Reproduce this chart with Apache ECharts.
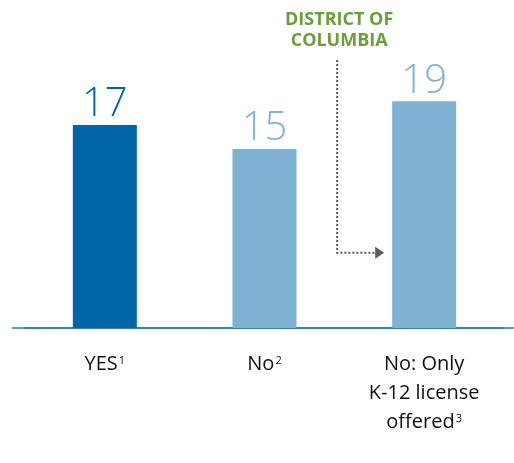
<!DOCTYPE html>
<html>
<head>
<meta charset="UTF-8">
<script src="https://cdn.jsdelivr.net/npm/echarts@6/dist/echarts.min.js"></script>
<style>
  body { margin: 0; background: #fff; }
  #chart { width: 514px; height: 463px; }
</style>
</head>
<body>
<div id="chart"></div>
<script>
// categories (rich-text keys give the footnote superscripts)
const categories = ['YES{sup|1}', 'No{sup|2}', 'No: Only\nK-12 license\noffered{sup|3}']
const values = [17, 15, 19]
const barColors = ['#0065a5', '#80b2d3', '#80b2d3']
const annotation = 'DISTRICT OF\nCOLUMBIA'

const chart = echarts.init(document.getElementById('chart'))

chart.setOption({
  animation: false,
  grid: { left: 25, right: 10, top: 29.5, bottom: 135 },
  xAxis: {
    type: 'category',
    data: categories,
    axisTick: { show: false },
    axisLine: { lineStyle: { color: '#2a7ab0', width: 1.5 } },
    axisLabel: {
      margin: 22,
      color: '#111',
      fontFamily: 'Open Sans',
      fontSize: 20,
      lineHeight: 29,
      interval: 0,
      rich: {
        sup: { fontSize: 11, verticalAlign: 'bottom', padding: [0, 0, 13, 1], color: '#111' }
      }
    }
  },
  yAxis: {
    type: 'value',
    min: 0,
    max: 25,
    show: false
  },
  series: [{
    type: 'bar',
    barWidth: 64,
    data: values.map((v, i) => ({ value: v, itemStyle: { color: barColors[i] }, label: { color: barColors[i] } })),
    label: {
      show: true,
      position: 'top',
      distance: 0,
      fontFamily: 'Open Sans',
      fontWeight: 300,
      fontSize: 40
    }
  }]
})

// dotted arrow from the DC note to the third bar
const tip = chart.convertToPixel({ gridIndex: 0 }, [2, 6.3])
const barLeft = tip[0] - 32
const lineX = barLeft - 55
chart.setOption({
  graphic: [
    { type: 'line', shape: { x1: 12, y1: 328, x2: 514, y2: 328 }, style: { stroke: '#2a7ab0', lineWidth: 1.5 } },
    {
      type: 'text', x: lineX + 2, y: 9,
      style: { text: annotation, fill: '#6b9e3a', font: 'bold 18px "Open Sans"', align: 'center', lineHeight: 21 }
    },
    {
      type: 'polyline',
      shape: { points: [[lineX, 60], [lineX, tip[1]], [barLeft - 16, tip[1]]] },
      style: { stroke: '#5a5a5a', lineWidth: 2, lineDash: [2, 2], fill: null }
    },
    {
      type: 'polygon',
      shape: { points: [[barLeft - 17, tip[1] - 6], [barLeft - 8, tip[1]], [barLeft - 17, tip[1] + 6]] },
      style: { fill: '#5a5a5a' }
    }
  ]
})
</script>
</body>
</html>
